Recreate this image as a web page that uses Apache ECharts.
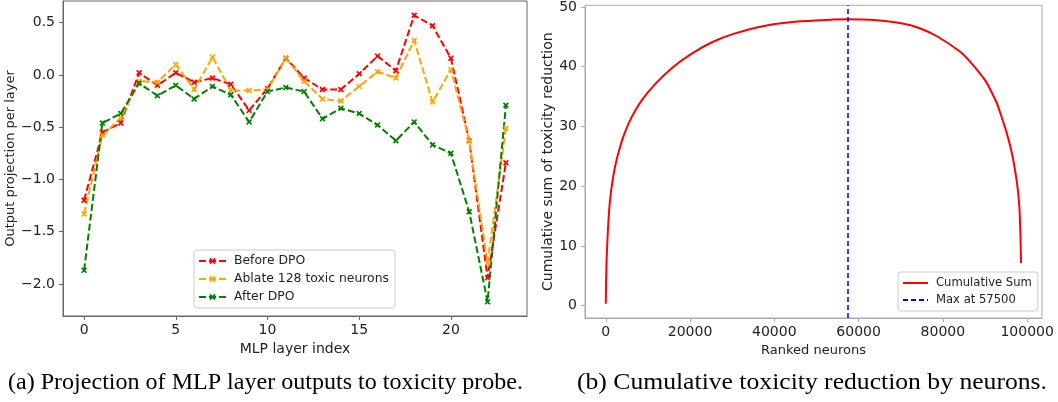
<!DOCTYPE html>
<html>
<head>
<meta charset="utf-8">
<script src="https://cdn.jsdelivr.net/npm/echarts@6/dist/echarts.min.js"></script>
<style>
  html, body { margin: 0; padding: 0; background: #fff; }
  #chart { width: 1058px; height: 402px; }
</style>
</head>
<body>
<div id="chart"></div>
<script>
// left panel: projection per MLP layer
const layers = [0,1,2,3,4,5,6,7,8,9,10,11,12,13,14,15,16,17,18,19,20,21,22,23];
const beforeDpo = [-1.20,-0.55,-0.46,0.02,-0.10,0.02,-0.07,-0.03,-0.09,-0.34,-0.13,0.16,
                   -0.03,-0.14,-0.14,0.01,0.18,0.04,0.57,0.47,0.16,-0.63,-1.94,-0.84];
const ablate128 = [-1.33,-0.58,-0.41,-0.06,-0.07,0.10,-0.14,0.17,-0.15,-0.15,-0.14,0.16,
                   -0.06,-0.23,-0.25,-0.11,0.03,-0.03,0.33,-0.26,0.05,-0.63,-1.80,-0.51];
const afterDpo = [-1.87,-0.46,-0.37,-0.08,-0.20,-0.10,-0.23,-0.11,-0.19,-0.45,-0.16,-0.12,
                  -0.16,-0.42,-0.32,-0.37,-0.48,-0.63,-0.45,-0.67,-0.75,-1.31,-2.17,-0.29];
const leftXTicks = [0, 5, 10, 15, 20];
const leftYTicks = [-2.0, -1.5, -1.0, -0.5, 0.0, 0.5];

// right panel: cumulative toxicity reduction
const rankedNeurons = [0,150,470,700,1020,1500,2210,3160,4430,6170,8550,11870,16060,20400,25200,
                       30300,38200,46100,54000,57500,62800,70700,74650,78600,84100,86500,
                       90050,91300,92860,93650,95200,96020,96700,97600,98150,98400,98560];
const cumulativeSum = [0.3,6.6,12.1,14.9,17.7,20.4,23.3,26.0,28.8,31.6,34.4,37.2,40.0,42.2,44.1,
                       45.5,46.9,47.6,47.9,47.95,47.85,47.2,46.4,45.1,42.5,40.8,
                       37.7,36.1,33.8,32.2,28.8,26.6,24.4,20.5,16.6,12.1,7.1];
const maxRank = 57500;
const rightXTicks = [0, 20000, 40000, 60000, 80000, 100000];
const rightYTicks = [0, 10, 20, 30, 40, 50];

const captionA = '(a) Projection of MLP layer outputs to toxicity probe.';
const captionB = '(b) Cumulative toxicity reduction by neurons.';

const font = 'DejaVu Sans';
const xMark = 'path://M2,0L5,3L8,0L10,2L7,5L10,8L8,10L5,7L2,10L0,8L3,5L0,2Z';
const pairs = (xs, ys) => xs.map((x, i) => [x, ys[i]]);
const minus = v => String(v).replace('-', '\u2212');

const chart = echarts.init(document.getElementById('chart'), null, { renderer: 'canvas' });

function dashSeries(name, values, color) {
  return {
    name: name, type: 'line', xAxisIndex: 0, yAxisIndex: 0,
    data: pairs(layers, values),
    symbol: xMark, symbolSize: 6,
    itemStyle: { color: color },
    lineStyle: { color: color, width: 2, type: [7, 3] },
    emphasis: { disabled: true }, z: 3
  };
}

function axis(color, ticks, extra) {
  return Object.assign({
    type: 'value',
    splitLine: { show: false },
    axisLine: { show: true, onZero: false, lineStyle: { color: color, width: 1 } },
    axisTick: { show: true, length: 4, lineStyle: { color: color }, customValues: ticks },
    axisLabel: { color: '#222', fontFamily: font, fontSize: 14, margin: 7, customValues: ticks },
    nameLocation: 'middle',
    nameTextStyle: { color: '#222', fontFamily: font, fontSize: 13 }
  }, extra);
}

function caption(text, x, width) {
  return {
    type: 'text', x: x, y: 371, scaleX: 1, silent: true,
    style: { text: text, fontFamily: 'Liberation Serif', fontSize: 23, fill: '#000' },
    _width: width
  };
}

const option = {
  backgroundColor: '#fff',
  animation: false,
  grid: [
    { left: 63, top: 1, width: 464, height: 315, show: true, borderColor: '#666', borderWidth: 1 },
    { left: 585, top: 5, width: 457, height: 313, show: true, borderColor: '#aaa', borderWidth: 1 }
  ],
  legend: [
    {
      data: ['Before DPO', 'Ablate 128 toxic neurons', 'After DPO'],
      orient: 'vertical', left: 194, top: 250,
      itemWidth: 27, itemHeight: 8, itemGap: 6,
      padding: [5, 6, 5, 4],
      borderColor: '#ccc', borderWidth: 1, borderRadius: 3, backgroundColor: 'rgba(255,255,255,0.8)',
      textStyle: { fontFamily: font, fontSize: 12.4, color: '#222', padding: [0, 0, 0, 3] }
    },
    {
      data: ['Cumulative Sum', 'Max at 57500'],
      orient: 'vertical', left: 898, top: 272,
      itemWidth: 25, itemHeight: 8, itemGap: 5,
      padding: [5, 6, 5, 4],
      itemStyle: { opacity: 0 },
      borderColor: '#ccc', borderWidth: 1, borderRadius: 3, backgroundColor: 'rgba(255,255,255,0.8)',
      textStyle: { fontFamily: font, fontSize: 11.6, color: '#222', padding: [0, 0, 0, 3] }
    }
  ],
  xAxis: [
    axis('#666', leftXTicks, {
      gridIndex: 0, min: -1.15, max: 24.15,
      name: 'MLP layer index', nameGap: 21,
      nameTextStyle: { color: '#222', fontFamily: font, fontSize: 14 }
    }),
    axis('#aaa', rightXTicks, {
      gridIndex: 1, min: -4930, max: 103530,
      name: 'Ranked neurons', nameGap: 21,
      axisLabel: { color: '#222', fontFamily: font, fontSize: 14, margin: 7, customValues: rightXTicks,
                   formatter: v => String(v) }
    })
  ],
  yAxis: [
    axis('#666', leftYTicks, {
      gridIndex: 0, min: -2.307, max: 0.707,
      name: 'Output projection per layer', nameGap: 44,
      axisLabel: { color: '#222', fontFamily: font, fontSize: 14, margin: 8, customValues: leftYTicks,
                   formatter: v => minus(v.toFixed(1)) }
    }),
    axis('#aaa', rightYTicks, {
      gridIndex: 1, min: -2.08, max: 50.28,
      name: 'Cumulative sum of toxicity reduction', nameGap: 28,
      nameTextStyle: { color: '#222', fontFamily: font, fontSize: 14 },
      axisLabel: { color: '#222', fontFamily: font, fontSize: 14, margin: 8, customValues: rightYTicks }
    })
  ],
  series: [
    dashSeries('Before DPO', beforeDpo, '#ff0000'),
    dashSeries('Ablate 128 toxic neurons', ablate128, '#ffa500'),
    dashSeries('After DPO', afterDpo, '#008000'),
    {
      name: 'Cumulative Sum', type: 'line', xAxisIndex: 1, yAxisIndex: 1,
      data: pairs(rankedNeurons, cumulativeSum),
      showSymbol: false, symbol: 'none', smooth: 0.25,
      itemStyle: { color: '#ff0000' },
      lineStyle: { color: '#ff0000', width: 2 },
      emphasis: { disabled: true }
    },
    {
      name: 'Max at 57500', type: 'line', xAxisIndex: 1, yAxisIndex: 1,
      data: [], symbol: 'none',
      itemStyle: { color: '#0000ff' },
      lineStyle: { color: '#0000ff', width: 1.5, type: [5, 3] },
      markLine: {
        silent: true, symbol: 'none', label: { show: false },
        lineStyle: { color: '#0000ff', width: 1.5, type: [5, 3] },
        data: [{ xAxis: maxRank }]
      }
    }
  ]
};

// captions in serif, stretched to the width they take in the figure
const caps = [caption(captionA, 8, 515), caption(captionB, 577, 470)];
const ctx = document.createElement('canvas').getContext('2d');
ctx.font = '23px "Liberation Serif"';
caps.forEach(c => {
  c.scaleX = c._width / ctx.measureText(c.style.text).width;
  delete c._width;
});
option.graphic = caps;

chart.setOption(option);
</script>
</body>
</html>
